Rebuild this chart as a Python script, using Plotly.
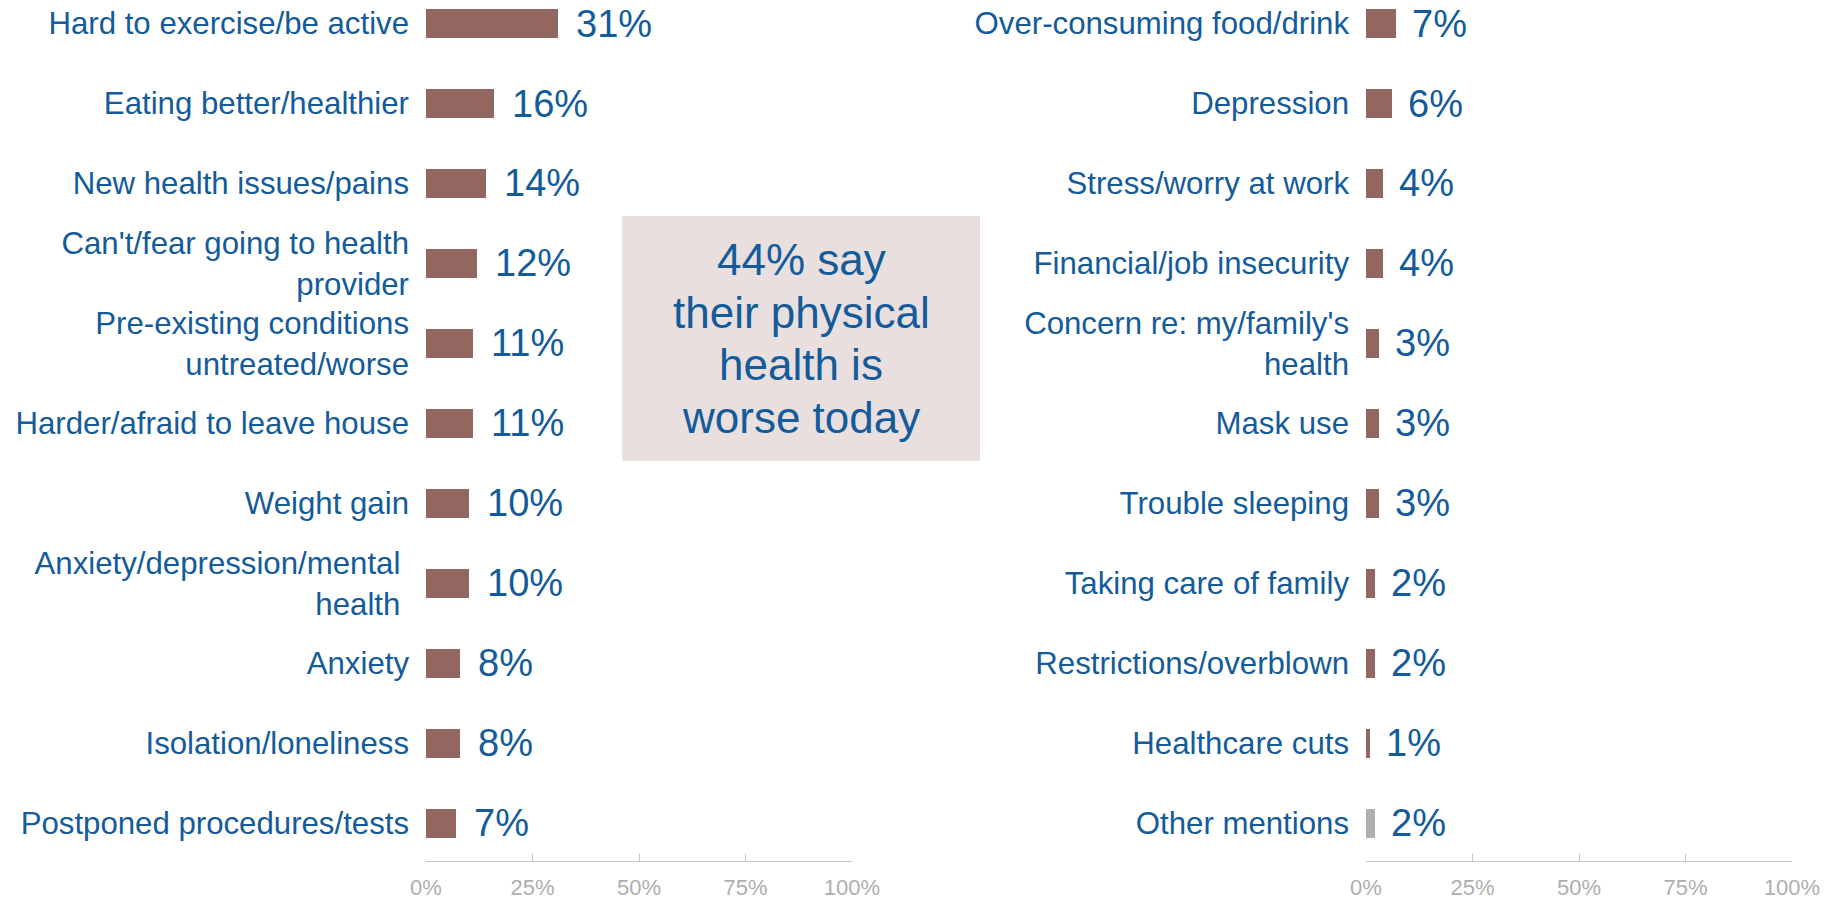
import plotly.graph_objects as go

left_labels = [
    "Hard to exercise/be active",
    "Eating better/healthier",
    "New health issues/pains",
    "Can't/fear going to health<br>provider",
    "Pre-existing conditions<br>untreated/worse",
    "Harder/afraid to leave house",
    "Weight gain",
    "Anxiety/depression/mental\u00a0<br>health\u00a0",
    "Anxiety",
    "Isolation/loneliness",
    "Postponed procedures/tests",
]
left_values = [31, 16, 14, 12, 11, 11, 10, 10, 8, 8, 7]

right_labels = [
    "Over-consuming food/drink",
    "Depression",
    "Stress/worry at work",
    "Financial/job insecurity",
    "Concern re: my/family's<br>health",
    "Mask use",
    "Trouble sleeping",
    "Taking care of family",
    "Restrictions/overblown",
    "Healthcare cuts",
    "Other mentions",
]
right_values = [7, 6, 4, 4, 3, 3, 3, 2, 2, 1, 2]

tick_vals = [0, 25, 50, 75, 100]
tick_text = ["0%", "25%", "50%", "75%", "100%"]
callout_lines = ["44% say", "their physical", "health is", "worse today"]

BAR = "#936660"
OTHER = "#b0b0b0"
BLUE = "#135b9a"
GRAY_TXT = "#aeaeae"
AXIS = "#c4c4c4"
FONT = "Liberation Sans, Arial, sans-serif"

W, H = 1837, 901
plot_h = 861
fig = go.Figure()

left_ids = list(range(len(left_labels)))
right_ids = list(range(len(right_labels)))

fig.add_trace(go.Bar(
    x=left_values, y=left_ids, orientation="h", width=0.36,
    marker=dict(color=BAR, line=dict(width=0)),
    xaxis="x", yaxis="y", hoverinfo="skip", showlegend=False,
))
right_colors = [BAR] * (len(right_values) - 1) + [OTHER]
fig.add_trace(go.Bar(
    x=right_values, y=right_ids, orientation="h", width=0.36,
    marker=dict(color=right_colors, line=dict(width=0)),
    xaxis="x2", yaxis="y2", hoverinfo="skip", showlegend=False,
))

annotations = []
for i, v in enumerate(left_values):
    annotations.append(dict(x=v, y=i, xref="x", yref="y", text=f"{v}%",
                            showarrow=False, xanchor="left", yanchor="middle",
                            xshift=16, font=dict(size=38, color=BLUE, family=FONT)))
for i, v in enumerate(right_values):
    annotations.append(dict(x=v, y=i, xref="x2", yref="y2", text=f"{v}%",
                            showarrow=False, xanchor="left", yanchor="middle",
                            xshift=14, font=dict(size=38, color=BLUE, family=FONT)))

box_x0, box_x1 = 622 / W, 980 / W
box_y1 = 1 - 216 / plot_h
box_y0 = 1 - 460.7 / plot_h
cx, cy = (box_x0 + box_x1) / 2, (box_y0 + box_y1) / 2
line_step = 52.5
n = len(callout_lines)
for k, line in enumerate(callout_lines):
    annotations.append(dict(x=cx, y=cy, xref="paper", yref="paper", text=line,
                            showarrow=False, xanchor="center", yanchor="middle",
                            yshift=-(k - (n - 1) / 2) * line_step,
                            font=dict(size=44, color=BLUE, family=FONT)))

ymin, ymax = -0.294, 10.47

def xaxis_cfg(domain, anchor):
    return dict(domain=domain, anchor=anchor, range=[0, 100], tickmode="array",
                tickvals=tick_vals, ticktext=tick_text, automargin=False,
                showgrid=False, zeroline=False, showline=True,
                linecolor=AXIS, linewidth=1.3, ticks="inside", ticklen=7,
                tickcolor=AXIS, tickwidth=1.3, fixedrange=True,
                tickfont=dict(size=22, color=GRAY_TXT, family=FONT),
                ticklabelstandoff=6)

def yaxis_cfg(anchor, labels):
    return dict(anchor=anchor, type="linear", range=[ymax, ymin], tickmode="array",
                tickvals=list(range(len(labels))), ticktext=labels, automargin=False,
                showgrid=False, zeroline=False, showline=False, ticks="",
                ticklabelstandoff=16, fixedrange=True,
                tickfont=dict(size=31.2, color=BLUE, family=FONT))

fig.update_layout(
    width=W, height=H, autosize=False,
    margin=dict(l=0, r=0, t=0, b=H - plot_h, pad=0, autoexpand=False),
    paper_bgcolor="white", plot_bgcolor="white",
    font=dict(family=FONT, color=BLUE),
    xaxis=xaxis_cfg([426 / W, 852 / W], "y"),
    yaxis=yaxis_cfg("x", left_labels),
    xaxis2=xaxis_cfg([1366 / W, 1792 / W], "y2"),
    yaxis2=yaxis_cfg("x2", right_labels),
    bargap=0,
    annotations=annotations,
    shapes=[dict(type="rect", xref="paper", yref="paper",
                 x0=box_x0, x1=box_x1, y0=box_y0, y1=box_y1,
                 fillcolor="#e9dfde", line=dict(width=0), layer="below")],
)

fig.write_html("out.html", config={"displayModeBar": False, "responsive": False},
               post_script="document.body.style.margin='0';document.body.style.overflow='hidden';")
